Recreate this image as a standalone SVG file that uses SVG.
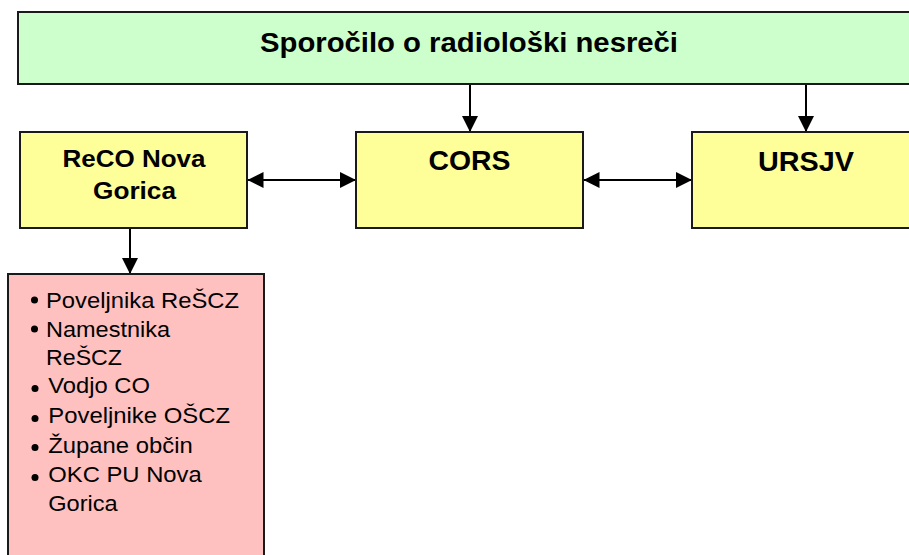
<svg xmlns="http://www.w3.org/2000/svg" width="909" height="555" viewBox="0 0 909 555">
<defs>
<style>
.box{stroke:#1a1a1a;stroke-width:2}
.b{font-family:"Liberation Sans",Arial,sans-serif;font-weight:bold;fill:#000;text-anchor:middle}
.t{font-family:"Liberation Sans",Arial,sans-serif;font-size:22px;fill:#000}
.c{stroke:#000;stroke-width:2;fill:none}
</style>
<marker id="ah" viewBox="0 0 16 16" refX="16" refY="8" markerWidth="16" markerHeight="16" markerUnits="userSpaceOnUse" orient="auto-start-reverse">
<path d="M0,0 L16,8 L0,16 Z" fill="#000"/>
</marker>
</defs>
<rect width="909" height="555" fill="#fff"/>
<g id="connectors">
<line class="c" x1="470" y1="84" x2="470" y2="132" marker-end="url(#ah)"/>
<line class="c" x1="806" y1="84" x2="806" y2="132" marker-end="url(#ah)"/>
<line class="c" x1="130" y1="228" x2="130" y2="274" marker-end="url(#ah)"/>
<line class="c" x1="247.5" y1="180" x2="356" y2="180" marker-start="url(#ah)" marker-end="url(#ah)"/>
<line class="c" x1="583.5" y1="180" x2="692" y2="180" marker-start="url(#ah)" marker-end="url(#ah)"/>
</g>
<g id="node-sporocilo">
<rect class="box" x="18" y="12" width="904" height="72" fill="#CCFFCC"/>
<text class="b" x="469" y="52" font-size="28.5" textLength="418" lengthAdjust="spacingAndGlyphs">Sporočilo o radiološki nesreči</text>
</g>
<g id="node-reco">
<rect class="box" x="20" y="132" width="227" height="96" fill="#FFFF99"/>
<text class="b" x="134" y="167" font-size="23" textLength="143" lengthAdjust="spacingAndGlyphs">ReCO Nova</text>
<text class="b" x="134.5" y="199" font-size="23" textLength="83" lengthAdjust="spacingAndGlyphs">Gorica</text>
</g>
<g id="node-cors">
<rect class="box" x="356" y="132" width="227" height="96" fill="#FFFF99"/>
<text class="b" x="469.5" y="170" font-size="28.5" textLength="82" lengthAdjust="spacingAndGlyphs">CORS</text>
</g>
<g id="node-ursjv">
<rect class="box" x="692" y="132" width="230" height="96" fill="#FFFF99"/>
<text class="b" x="806" y="171" font-size="28.5" textLength="96" lengthAdjust="spacingAndGlyphs">URSJV</text>
</g>
<g id="node-list">
<rect class="box" x="8" y="274" width="256" height="290" fill="#FFC0C0"/>
<circle cx="34.5" cy="300" r="3.5" fill="#000"/>
<circle cx="34.5" cy="329" r="3.5" fill="#000"/>
<circle cx="35" cy="388.5" r="3.5" fill="#000"/>
<circle cx="35" cy="418.5" r="3.5" fill="#000"/>
<circle cx="35" cy="447.5" r="3.5" fill="#000"/>
<circle cx="35" cy="477.5" r="3.5" fill="#000"/>
<text class="t" x="46" y="307.7" textLength="193" lengthAdjust="spacingAndGlyphs">Poveljnika ReŠCZ</text>
<text class="t" x="46" y="336.7" textLength="124" lengthAdjust="spacingAndGlyphs">Namestnika</text>
<text class="t" x="46" y="365" textLength="76" lengthAdjust="spacingAndGlyphs">ReŠCZ</text>
<text class="t" x="48.3" y="393.3" textLength="101.7" lengthAdjust="spacingAndGlyphs">Vodjo CO</text>
<text class="t" x="48.3" y="423.3" textLength="181.7" lengthAdjust="spacingAndGlyphs">Poveljnike OŠCZ</text>
<text class="t" x="48.3" y="452.7" textLength="144.4" lengthAdjust="spacingAndGlyphs">Župane občin</text>
<text class="t" x="48.3" y="482.3" textLength="153.4" lengthAdjust="spacingAndGlyphs">OKC PU Nova</text>
<text class="t" x="48.3" y="511" textLength="69.4" lengthAdjust="spacingAndGlyphs">Gorica</text>
</g>
</svg>
